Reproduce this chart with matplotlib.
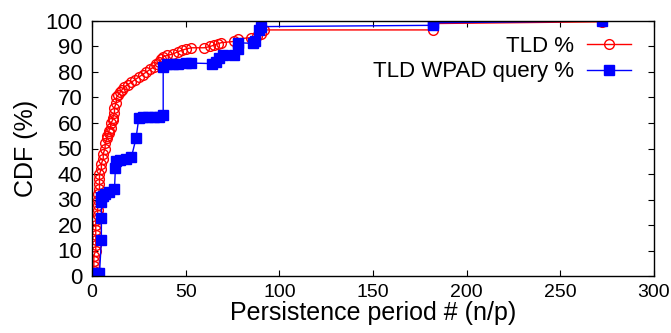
import matplotlib
matplotlib.use('Agg')
import matplotlib.pyplot as plt

# TLD % (red, open circles)
tld_x = [1, 1, 1, 1, 1, 2, 2, 2, 2, 2, 2, 2,
         3, 3, 3, 3, 3, 4, 4, 4, 4, 5, 5, 6, 6, 7, 7, 8, 8, 9, 9, 10,
         10, 11, 11, 12, 12, 13, 13, 14, 15, 16, 17, 19, 21, 23, 25, 27,
         29, 31, 33, 34, 36, 37, 38, 40, 43, 46, 48, 50, 53, 60, 63, 65,
         67, 69, 76, 78, 85, 88, 90, 92, 182, 182, 272, 272]
tld_y = [0.5, 2, 4, 6, 8, 10, 12, 14, 16, 18, 20, 22,
         24, 26, 28, 30, 32, 34, 36, 38, 40, 42, 44, 46, 48, 50, 52, 54, 55, 56, 57, 58,
         60, 61, 62, 64, 66, 68, 70, 71, 72, 73, 74, 75, 76, 77, 78, 79,
         80, 81, 82, 83, 84, 85, 86, 86.5, 87, 88, 88.5, 89, 89.5, 89.5, 90, 90.5,
         91, 91.5, 92, 93, 93.5, 94, 95, 96.5, 96.5, 99, 99.7, 100]

# TLD WPAD query % (blue, filled squares)
wpad_x = [1, 2, 4, 5, 5, 5, 5, 6, 7, 9, 12, 12.5, 13, 15, 18, 21, 23.5,
          25, 27, 30, 33, 36, 38, 38, 40, 43, 46, 50, 53, 64, 66, 68, 70,
          76, 78, 78, 86, 87, 89, 90, 182, 182, 272]
wpad_y = [0, 1, 1, 14, 22.7, 29, 31, 31.5, 32, 33, 34, 42.5, 45, 45.5, 46, 46.5, 54,
          62, 62.5, 62.5, 62.5, 62.5, 63, 82, 83, 83, 83, 83.5, 83.5, 83.3, 84, 85.5, 86.5,
          86.5, 89, 91.5, 91.2, 92.2, 96.5, 97.8, 98.3, 99.3, 100]

plt.rcParams['font.family'] = ['Liberation Sans', 'DejaVu Sans']
narrow = ['Liberation Sans Narrow', 'Liberation Sans']

fig = plt.figure(figsize=(6.71, 3.33), dpi=100)
ax = fig.add_axes([92 / 671, 1 - 276 / 333, 562 / 671, 255 / 333])

ax.plot(tld_x, tld_y, color='#ff0000', lw=1, marker='o', ms=7, mfc='none',
        mec='#ff0000', mew=1, label='TLD %')
ax.plot(wpad_x, wpad_y, color='#0000ff', lw=1, marker='s', ms=6.5,
        mfc='#0000ff', mec='#0000ff', label='TLD WPAD query %')

ax.set_xlim(0, 300)
ax.set_ylim(0, 100)
ax.set_xticks(range(0, 301, 50))
ax.set_yticks(range(0, 101, 10))
ax.tick_params(direction='in', length=4.5, width=0.8, top=True, right=True)
ax.tick_params(axis='y', labelsize=16, pad=7)
ax.tick_params(axis='x', labelsize=14, pad=6)
for lbl in ax.get_xticklabels():
    lbl.set_family(narrow)
for s in ax.spines.values():
    s.set_linewidth(1)

ax.set_xlabel('Persistence period # (n/p)', fontsize=18, family=narrow, labelpad=0)
ax.set_ylabel('CDF (%)', fontsize=18, labelpad=5)

ax.legend(loc='upper right', bbox_to_anchor=(631 / 671, 1 - 36 / 333),
          bbox_transform=fig.transFigure, frameon=False, markerfirst=False,
          fontsize=16, handlelength=2.0, handletextpad=0.55, labelspacing=0.2,
          borderpad=0, borderaxespad=0)

fig.savefig('out.png', dpi=100)
